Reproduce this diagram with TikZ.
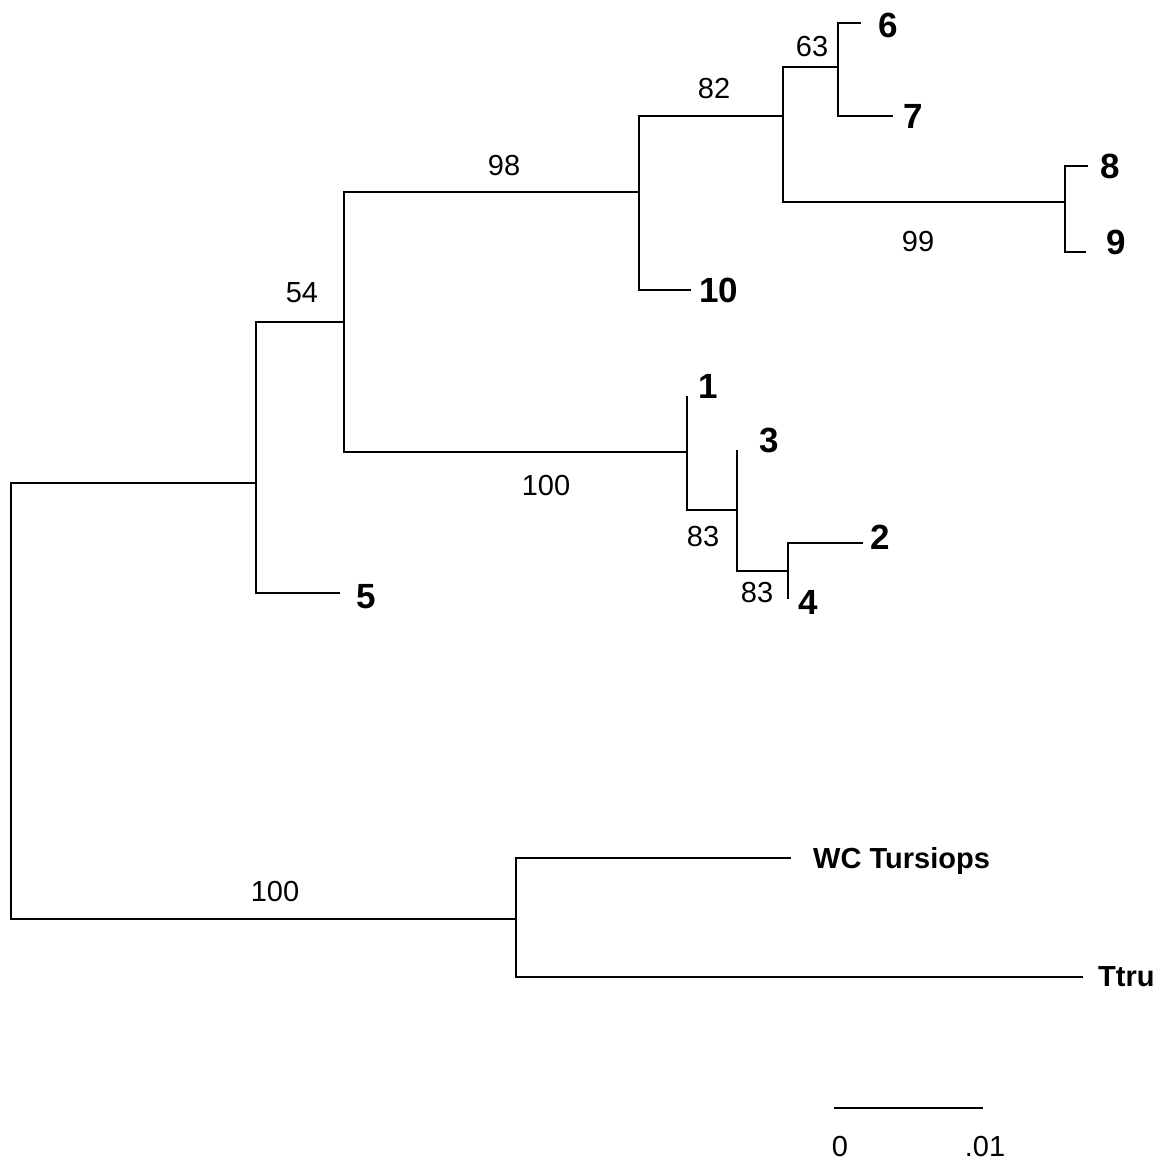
\documentclass[tikz,border=0pt]{standalone}
\usepackage{fontspec}
\setmainfont{Liberation Sans}
\usetikzlibrary{positioning}

\begin{document}
\begin{tikzpicture}[
    x=1pt, y=-1pt,
    branch/.style={line width=1.4pt, line cap=rect},
    leaf/.style={font=\fontsize{35}{38}\selectfont\bfseries, inner sep=0pt},
    taxon/.style={font=\fontsize{29}{32}\selectfont\bfseries, inner sep=0pt, text depth=0pt},
    boot/.style={font=\fontsize{29}{32}\selectfont, inner sep=0pt}
]
\useasboundingbox (0,0) rectangle (1167,1165);

% internal nodes
\coordinate (root) at (11,700);
\coordinate (nA) at (256,483);
\coordinate (nB) at (344,322);
\coordinate (nC) at (639,192);
\coordinate (nD) at (783,116);
\coordinate (nE) at (838,67);
\coordinate (nF) at (1065,202);
\coordinate (nG) at (687,452);
\coordinate (nH) at (737,510);
\coordinate (nI) at (788,571);
\coordinate (nJ) at (516,919);

% branch tips
\coordinate (l1) at (687,397);
\coordinate (l2) at (862,543);
\coordinate (l3) at (737,451);
\coordinate (l4) at (788,598);
\coordinate (l5) at (339,593);
\coordinate (l6) at (860,23);
\coordinate (l7) at (892,116);
\coordinate (l8) at (1087,166);
\coordinate (l9) at (1085,252);
\coordinate (l10) at (690,290);
\coordinate (lWC) at (790,858);
\coordinate (lTt) at (1082,977);

% tree
\draw[branch] (nA) -| (root) |- (nJ);
\draw[branch] (nB) -| (nA) |- (l5);
\draw[branch] (nC) -| (nB) |- (nG);
\draw[branch] (nD) -| (nC) |- (l10);
\draw[branch] (nE) -| (nD) |- (nF);
\draw[branch] (l6) -| (nE) |- (l7);
\draw[branch] (l8) -| (nF) |- (l9);
\draw[branch] (l1) |- (nH);
\draw[branch] (l3) |- (nI);
\draw[branch] (l2) -| (l4);
\draw[branch] (lWC) -| (nJ) |- (lTt);

% leaf labels
\node[leaf, right=18pt of l6, yshift=-2pt] (t6) {6};
\node[leaf, right=11pt of l7] (t7) {7};
\node[leaf, right=13pt of l8] (t8) {8};
\node[leaf, right=21pt of l9, yshift=10pt] (t9) {9};
\node[leaf, right=9pt of l10] (t10) {10};
\node[leaf, right=17pt of l5, yshift=-4pt] (t5) {5};
\node[leaf, right=8pt of l2, yshift=6pt] (t2) {2};
\node[leaf] (t1) at (708,386) {1};
\node[leaf] (t3) at (769,440) {3};
\node[leaf] (t4) at (808,602) {4};
\node[taxon, right=23pt of lWC] (tWC) {WC Tursiops};
\node[taxon, right=16pt of lTt] (tTt) {Ttru};

% bootstrap values
\node[boot] (b63) at (812,47) {63};
\node[boot] (b82) at (714,89) {82};
\node[boot] (b99) at (918,242) {99};
\node[boot] (b98) at (504,166) {98};
\node[boot] (b54) at (302,293) {54};
\node[boot] (b100a) at (546,486) {100};
\node[boot] (b83a) at (703,537) {83};
\node[boot] (b83b) at (757,593) {83};
\node[boot] (b100b) at (275,892) {100};

% scale bar
\coordinate (s0) at (835,1108);
\coordinate (s1) at (982,1108);
\draw[branch] (s0) -- (s1);
\node[boot] (z0) at (840,1147) {0};
\node[boot] (z1) at (985,1147) {.01};
\end{tikzpicture}
\end{document}
